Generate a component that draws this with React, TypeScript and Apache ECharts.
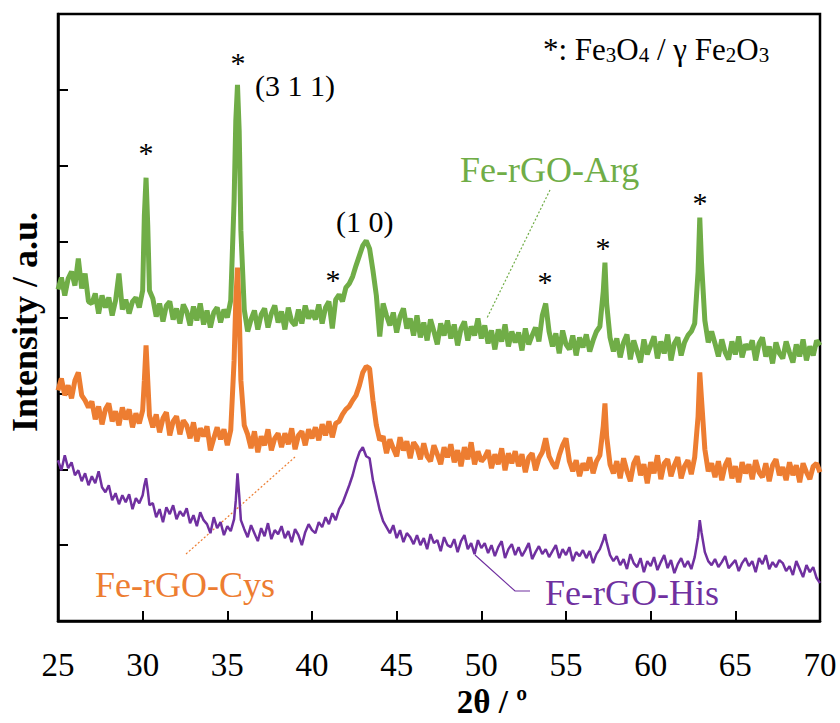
import React, { useEffect, useRef } from "react";
import * as echarts from "echarts";

const twoTheta = [
  25.0, 25.2, 25.4, 25.6, 25.8, 26.0, 26.2, 26.4, 26.6, 26.8,
  27.0, 27.2, 27.4, 27.6, 27.8, 28.0, 28.2, 28.4, 28.6, 28.8,
  29.0, 29.2, 29.4, 29.6, 29.8, 30.0, 30.1, 30.2, 30.3, 30.4,
  30.6, 30.8, 31.0, 31.2, 31.4, 31.6, 31.8, 32.0, 32.2, 32.4,
  32.6, 32.8, 33.0, 33.2, 33.4, 33.6, 33.8, 34.0, 34.2, 34.4,
  34.6, 34.8, 35.0, 35.2, 35.4, 35.5, 35.6, 35.7, 35.8, 36.0,
  36.2, 36.4, 36.6, 36.8, 37.0, 37.2, 37.4, 37.6, 37.8, 38.0,
  38.2, 38.4, 38.6, 38.8, 39.0, 39.2, 39.4, 39.6, 39.8, 40.0,
  40.2, 40.4, 40.6, 40.8, 41.0, 41.2, 41.4, 41.6, 41.8, 42.0,
  42.2, 42.4, 42.6, 42.8, 43.0, 43.2, 43.4, 43.6, 43.8, 44.0,
  44.2, 44.4, 44.6, 44.8, 45.0, 45.2, 45.4, 45.6, 45.8, 46.0,
  46.2, 46.4, 46.6, 46.8, 47.0, 47.2, 47.4, 47.6, 47.8, 48.0,
  48.2, 48.4, 48.6, 48.8, 49.0, 49.2, 49.4, 49.6, 49.8, 50.0,
  50.2, 50.4, 50.6, 50.8, 51.0, 51.2, 51.4, 51.6, 51.8, 52.0,
  52.2, 52.4, 52.6, 52.8, 53.0, 53.2, 53.4, 53.6, 53.8, 54.0,
  54.2, 54.4, 54.6, 54.8, 55.0, 55.2, 55.4, 55.6, 55.8, 56.0,
  56.2, 56.4, 56.6, 56.8, 57.0, 57.2, 57.3, 57.4, 57.6, 57.8,
  58.0, 58.2, 58.4, 58.6, 58.8, 59.0, 59.2, 59.4, 59.6, 59.8,
  60.0, 60.2, 60.4, 60.6, 60.8, 61.0, 61.2, 61.4, 61.6, 61.8,
  62.0, 62.2, 62.4, 62.6, 62.8, 62.9, 63.0, 63.2, 63.4, 63.6,
  63.8, 64.0, 64.2, 64.4, 64.6, 64.8, 65.0, 65.2, 65.4, 65.6,
  65.8, 66.0, 66.2, 66.4, 66.6, 66.8, 67.0, 67.2, 67.4, 67.6,
  67.8, 68.0, 68.2, 68.4, 68.6, 68.8, 69.0, 69.2, 69.4, 69.6,
  69.8, 70.0,
];

// Fe-rGO-Arg (green, top pattern)
const argIntensity = [
  332, 344, 326, 343, 350, 336, 363, 333, 348, 320,
  318, 328, 308, 326, 314, 324, 306, 321, 348, 312,
  322, 308, 320, 324, 314, 331, 406, 444, 396, 331,
  323, 305, 318, 300, 316, 320, 302, 313, 298, 317,
  310, 296, 315, 301, 318, 297, 311, 294, 309, 314,
  299, 312, 304, 321, 421, 501, 537, 491, 391, 312,
  290, 302, 311, 292, 307, 313, 294, 308, 316, 299,
  310, 292, 314, 300, 296, 312, 298, 316, 303, 311,
  302, 317, 298, 314, 320, 293, 322, 327, 320, 334,
  338, 345, 356, 366, 376, 381, 373, 351, 326, 285,
  318, 306, 296, 309, 289, 305, 313, 293, 303, 286,
  306, 284, 299, 281, 302, 290, 277, 298, 286, 301,
  283, 297, 276, 293, 300, 281, 295, 286, 303, 283,
  296, 278, 291, 272, 292, 280, 297, 275, 290, 279,
  289, 271, 293, 277, 286, 294, 280, 306, 318, 290,
  275, 288, 268, 291, 277, 272, 286, 266, 284, 274,
  287, 270, 281, 290, 295, 330, 359, 318, 284, 270,
  283, 264, 279, 287, 262, 281, 270, 259, 282, 267,
  276, 285, 263, 280, 268, 287, 261, 278, 284, 266,
  279, 286, 290, 298, 350, 404, 360, 301, 279, 290,
  278, 265, 282, 269, 262, 280, 267, 285, 264, 277,
  272, 281, 261, 278, 284, 265, 275, 258, 279, 268,
  263, 280, 269, 259, 277, 265, 282, 261, 275, 266,
  281, 276,
];

// Fe-rGO-Cys (orange, middle pattern)
const cysIntensity = [
  231, 243, 226, 236, 223, 241, 249, 226, 221, 214,
  220, 202, 215, 197, 212, 218, 200, 210, 196, 214,
  202, 212, 194, 208, 198, 211, 241, 276, 241, 206,
  194, 207, 189, 203, 209, 186, 200, 205, 187, 201,
  196, 183, 199, 180, 193, 185, 195, 171, 183, 194,
  182, 192, 176, 191, 261, 321, 354, 311, 241, 196,
  187, 173, 190, 169, 185, 176, 192, 171, 183, 188,
  174, 188, 177, 193, 172, 186, 190, 176, 192, 183,
  194, 181, 197, 186, 200, 184, 198, 200, 207, 212,
  215, 221, 226, 236, 249, 255, 253, 221, 196, 181,
  185, 168, 182, 173, 165, 184, 171, 180, 163, 179,
  174, 162, 178, 165, 160, 176, 167, 157, 174, 164,
  177, 159, 171, 155, 174, 162, 179, 157, 170, 160,
  164, 171, 153, 167, 157, 173, 151, 168, 158, 170,
  155, 167, 149, 164, 168, 151, 163, 169, 183, 165,
  158, 153, 166, 176, 183, 160, 150, 161, 145, 158,
  151, 164, 148, 160, 166, 195, 218, 185, 157, 148,
  160, 143, 163, 150, 140, 158, 165, 146, 157, 138,
  159, 148, 166, 142, 158, 162, 145, 156, 164, 143,
  155, 161, 147, 164, 205, 249, 223, 172, 150, 158,
  144, 160, 141, 156, 163, 143, 155, 139, 159, 148,
  157, 142, 161, 149, 144, 158, 140, 156, 162, 146,
  154, 141, 159, 146, 156, 139, 158, 149, 142, 155,
  158, 149,
];

// Fe-rGO-His (purple, bottom pattern)
const hisIntensity = [
  161, 151, 166, 153, 159, 146, 151, 140, 148, 136,
  145, 138, 150, 134, 129, 136, 121, 128, 117, 126,
  119, 127, 112, 123, 118, 126, 136, 143, 131, 116,
  118, 104, 112, 99, 114, 107, 116, 102, 110, 105,
  113, 98, 106, 95, 109, 101, 97, 88, 104, 93,
  99, 86, 95, 90, 102, 121, 148, 126, 101, 92,
  84, 96, 88, 80, 93, 85, 98, 82, 91, 87,
  95, 83, 90, 79, 92, 86, 76, 89, 97, 91,
  88, 99, 94, 104, 97, 108, 101, 112, 118, 127,
  136, 146, 159, 169, 174, 165, 163, 141, 126, 111,
  100, 94, 88, 96, 83, 91, 79, 88, 84, 77,
  86, 76, 83, 72, 87, 78, 81, 70, 84, 76,
  74, 82, 69, 80, 86, 72, 78, 67, 81, 73,
  78, 68, 76, 65, 74, 80, 63, 72, 77, 66,
  74, 65, 71, 78, 62, 69, 75, 67, 72, 64,
  70, 76, 63, 72, 66, 74, 60, 69, 65, 71,
  63, 70, 58, 67, 72, 81, 87, 79, 66, 60,
  65, 56, 62, 52, 67, 58, 54, 63, 49, 60,
  55, 64, 51, 59, 66, 53, 61, 48, 57, 63,
  54, 60, 52, 64, 84, 101, 89, 69, 60, 56,
  62, 54, 59, 65, 53, 57, 61, 50, 58, 63,
  55, 60, 49, 63, 57, 66, 52, 59, 54, 61,
  58, 50, 55, 46, 60, 52, 44, 56, 49, 54,
  43, 38,
];

const seriesNames = ["Fe-rGO-Arg", "Fe-rGO-Cys", "Fe-rGO-His"];
const seriesColors = ["#70AD47", "#ED7D31", "#7030A0"];

const FONT = "'Liberation Serif', serif";

export default function App() {
  const ref = useRef<HTMLDivElement>(null);

  useEffect(() => {
    if (!ref.current) return;
    const chart = echarts.init(ref.current, null, { renderer: "svg" });
    const toPairs = (ys: number[]) => twoTheta.map((x, i) => [x, ys[i]]);

    const star = (x: number, y: number) => ({
      type: "text",
      x,
      y: y + 7,
      style: {
        text: "*",
        fill: "#000",
        fontSize: 30,
        fontFamily: FONT,
        align: "center",
        verticalAlign: "middle",
      },
    });

    chart.setOption({
      animation: false,
      backgroundColor: "#ffffff",
      grid: {
        left: 58,
        right: 20,
        top: 14,
        bottom: 102,
        show: true,
        borderColor: "#000",
        borderWidth: 2.5,
      },
      xAxis: {
        type: "value",
        min: 25,
        max: 70,
        interval: 5,
        axisLine: { show: true, lineStyle: { color: "#000", width: 2.5 } },
        axisTick: { show: true, inside: true, length: 10, lineStyle: { color: "#000", width: 2 } },
        axisLabel: { color: "#000", fontSize: 33, fontFamily: FONT, margin: 27 },
        splitLine: { show: false },
      },
      yAxis: {
        type: "value",
        min: 0,
        max: 608,
        interval: 76,
        axisLine: { show: true, lineStyle: { color: "#000", width: 2.5 } },
        axisTick: { show: true, inside: true, length: 10, lineStyle: { color: "#000", width: 2 } },
        axisLabel: { show: false },
        splitLine: { show: false },
      },
      series: [
        {
          name: seriesNames[0],
          type: "line",
          data: toPairs(argIntensity),
          showSymbol: false,
          lineStyle: { color: seriesColors[0], width: 5 },
          itemStyle: { color: seriesColors[0] },
          z: 2,
        },
        {
          name: seriesNames[1],
          type: "line",
          data: toPairs(cysIntensity),
          showSymbol: false,
          lineStyle: { color: seriesColors[1], width: 5 },
          itemStyle: { color: seriesColors[1] },
          z: 3,
        },
        {
          name: seriesNames[2],
          type: "line",
          data: toPairs(hisIntensity),
          showSymbol: false,
          lineStyle: { color: seriesColors[2], width: 2.5 },
          itemStyle: { color: seriesColors[2] },
          z: 4,
        },
      ],
      graphic: [
        star(146, 145),
        star(238, 55),
        star(333, 272),
        star(545, 274),
        star(603, 240),
        star(700, 195),
        {
          type: "text",
          x: 255,
          y: 85,
          style: { text: "(3 1 1)", fill: "#000", fontSize: 30, fontFamily: FONT, align: "left", verticalAlign: "middle" },
        },
        {
          type: "text",
          x: 336,
          y: 221,
          style: { text: "(1 0)", fill: "#000", fontSize: 30, fontFamily: FONT, align: "left", verticalAlign: "middle" },
        },
        {
          type: "text",
          x: 543,
          y: 49,
          style: {
            text: "{a|*: Fe}{s|3}{a|O}{s|4}{a| / γ Fe}{s|2}{a|O}{s|3}",
            fill: "#000",
            align: "left",
            verticalAlign: "middle",
            rich: {
              a: { fontSize: 31, fontFamily: FONT, fill: "#000", lineHeight: 32 },
              s: { fontSize: 21, fontFamily: FONT, fill: "#000", lineHeight: 10, verticalAlign: "bottom" },
            },
          },
        },
        {
          type: "text",
          x: 460,
          y: 170,
          style: { text: seriesNames[0], fill: seriesColors[0], fontSize: 36, fontFamily: FONT, align: "left", verticalAlign: "middle" },
        },
        {
          type: "text",
          x: 95,
          y: 585,
          style: { text: seriesNames[1], fill: seriesColors[1], fontSize: 36, fontFamily: FONT, align: "left", verticalAlign: "middle" },
        },
        {
          type: "text",
          x: 545,
          y: 593,
          style: { text: seriesNames[2], fill: seriesColors[2], fontSize: 36, fontFamily: FONT, align: "left", verticalAlign: "middle" },
        },
        {
          type: "line",
          shape: { x1: 550, y1: 190, x2: 487, y2: 318 },
          style: { stroke: seriesColors[0], lineWidth: 1.2, lineDash: [2, 2] },
        },
        {
          type: "line",
          shape: { x1: 186, y1: 554, x2: 295, y2: 457 },
          style: { stroke: seriesColors[1], lineWidth: 1.2, lineDash: [2, 2] },
        },
        {
          type: "polyline",
          shape: { points: [[475, 555], [515, 591], [530, 591]] },
          style: { stroke: seriesColors[2], lineWidth: 1.2, fill: null },
        },
        {
          type: "text",
          x: 492,
          y: 702,
          style: { text: "2θ / º", fill: "#000", fontSize: 33, fontWeight: "bold", fontFamily: FONT, align: "center", verticalAlign: "middle" },
        },
        {
          type: "text",
          x: 25,
          y: 322,
          rotation: Math.PI / 2,
          style: { text: "Intensity / a.u.", fill: "#000", fontSize: 36, fontWeight: "bold", fontFamily: FONT, align: "center", verticalAlign: "middle" },
        },
      ],
    });
    return () => chart.dispose();
  }, []);

  return (
    <div
      ref={ref}
      style={{ position: "fixed", left: 0, top: 0, width: 840, height: 723, background: "#fff" }}
    />
  );
}
